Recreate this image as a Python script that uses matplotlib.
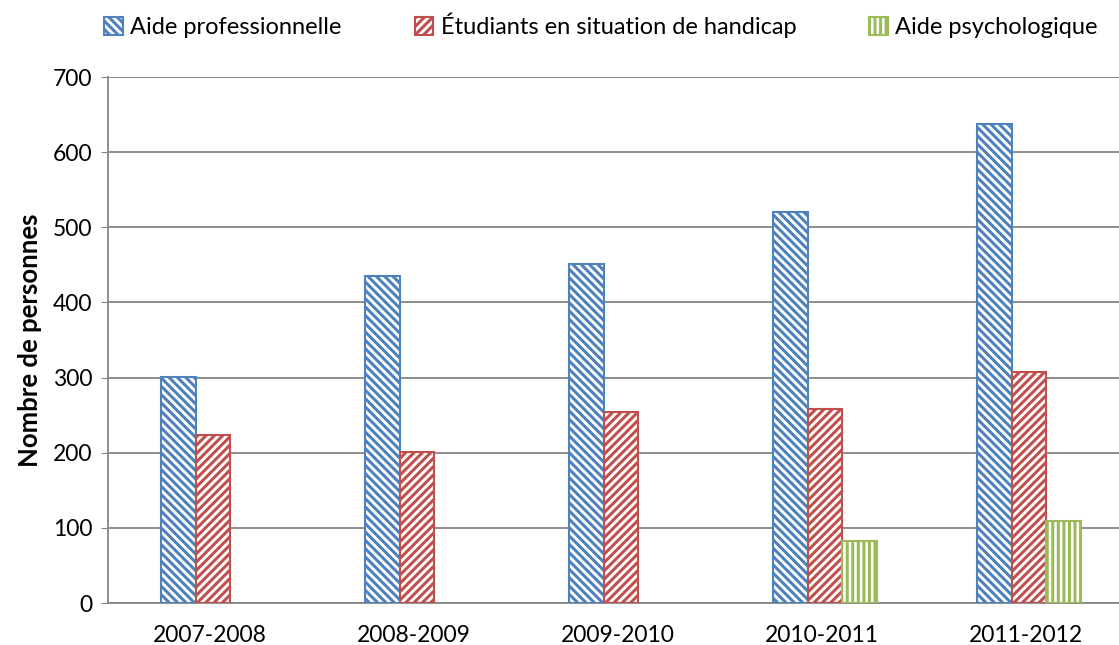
import matplotlib.pyplot as plt
import numpy as np

years = ["2007-2008", "2008-2009", "2009-2010", "2010-2011", "2011-2012"]
aide_pro = [301, 435, 451, 520, 637]
handicap = [224, 201, 254, 258, 307]
aide_psy = [None, None, None, 83, 109]

plt.rcParams["font.family"] = ["Lato", "DejaVu Sans"]
plt.rcParams["hatch.linewidth"] = 2.2

fig = plt.figure(figsize=(11.19, 6.45), dpi=100)
# plot area runs a bit past the right edge, as in the original
ax = fig.add_axes([108 / 1119, 42 / 645, 1020 / 1119, 526 / 645])

x = np.arange(len(years))
w = 0.17
series = [
    (aide_pro, "Aide professionnelle", "#4F81BD", "\\\\\\\\"),
    (handicap, "Étudiants en situation de handicap", "#C0504D", "////"),
    (aide_psy, "Aide psychologique", "#9BBB59", "|||"),
]
for i, (vals, label, col, hatch) in enumerate(series):
    idx = [k for k, v in enumerate(vals) if v is not None]
    v = np.array([vals[k] for k in idx], dtype=float)
    ax.bar(x[idx] + (i - 1) * w + 0.015, v, w, facecolor="white", edgecolor=col,
           hatch=hatch, linewidth=1.5, label=label, zorder=3)

ax.set_xlim(-0.5, len(years) - 0.5)
ax.set_ylim(0, 700)
ax.set_yticks(range(0, 701, 100))
ax.set_xticks(x, years)
ax.tick_params(axis="both", labelsize=16.5, colors="#000000")
ax.tick_params(axis="x", length=0, pad=16)
ax.tick_params(axis="y", length=5, color="#868686", pad=6)
ax.grid(True, axis="y", color="#868686", linewidth=1.3, zorder=0)
for s in ["top", "right"]:
    ax.spines[s].set_visible(False)
for s in ["left", "bottom"]:
    ax.spines[s].set_color("#868686")
    ax.spines[s].set_linewidth(1.3)
ax.set_ylabel("Nombre de personnes", fontsize=18.5, fontweight="bold", labelpad=8)

fig.legend(loc="center left", bbox_to_anchor=(104 / 1119, 1 - 25 / 645), ncol=3,
           frameon=False, fontsize=17, handlelength=0.8, handleheight=0.8,
           handletextpad=0.3, columnspacing=3.1, borderaxespad=0, borderpad=0)

fig.savefig("out.png", dpi=100)
